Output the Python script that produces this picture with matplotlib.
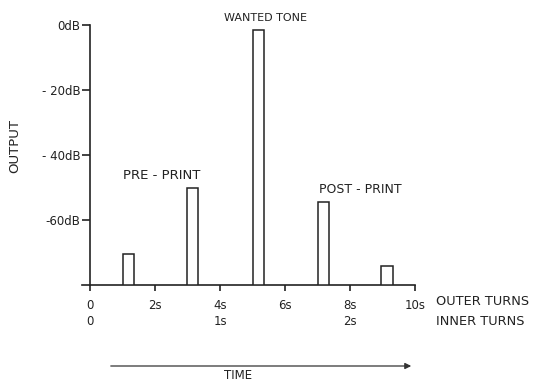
import matplotlib
matplotlib.use("Agg")
import matplotlib.pyplot as plt

# data
bar_times = [1.18, 3.16, 5.18, 7.18, 9.14]
bar_levels = [-70.5, -50.2, -1.5, -54.5, -74.3]
bar_width = 0.35
y_ticks = [0, -20, -40, -60]
y_tick_labels = ["0dB", "- 20dB", "- 40dB", "-60dB"]
outer_ticks = [0, 2, 4, 6, 8, 10]
outer_labels = ["0", "2s", "4s", "6s", "8s", "10s"]
inner_ticks = [0, 4, 8]
inner_labels = ["0", "1s", "2s"]
baseline = -80

plt.rcParams['font.family'] = ['DejaVu Sans']
fig = plt.figure(figsize=(5.42, 3.81), dpi=100)
ax = fig.add_axes([0.1513, 0.252, 0.6144, 0.6824])

ax.bar(bar_times, [l - baseline for l in bar_levels], bottom=baseline, width=bar_width,
       facecolor='white', edgecolor='#222222', linewidth=1.1, zorder=3)

ax.set_xlim(-0.25, 10)
ax.set_ylim(baseline, 0)

for s in ['top', 'right']:
    ax.spines[s].set_visible(False)
ax.spines['left'].set_position(('data', 0))
ax.spines['left'].set_linewidth(1.2)
ax.spines['bottom'].set_linewidth(1.2)
ax.spines['left'].set_color('#222222')
ax.spines['bottom'].set_color('#222222')

fs = 8.5
ax.set_yticks(y_ticks)
ax.set_yticklabels(y_tick_labels, fontsize=fs, color='#222222')
ax.tick_params(axis='y', direction='out', length=6, width=1.2, pad=1, color='#222222')

ax.set_xticks(outer_ticks)
ax.set_xticklabels(outer_labels, fontsize=fs, color='#222222')
ax.tick_params(axis='x', direction='out', length=4, width=1.2, pad=6, color='#222222')

xt = ax.get_xaxis_transform()
for t, lab in zip(inner_ticks, inner_labels):
    ax.text(t, -0.14, lab, transform=xt, ha='center', va='center', fontsize=fs, color='#222222')

ax.text(10.65, -0.065, "OUTER TURNS", transform=xt, ha='left', va='center', fontsize=9.3, color='#222222', clip_on=False)
ax.text(10.65, -0.14, "INNER TURNS", transform=xt, ha='left', va='center', fontsize=9.3, color='#222222', clip_on=False)

ax.text(5.41, 2.3, "WANTED TONE", ha='center', va='center', fontsize=8, color='#222222', clip_on=False)
ax.text(2.2, -46.2, "PRE - PRINT", ha='center', va='center', fontsize=9.5, color='#222222')
ax.text(8.32, -50.5, "POST - PRINT", ha='center', va='center', fontsize=9, color='#222222')

fig.text(15 / 542, 1 - 146 / 381, "OUTPUT", rotation=90, ha='center', va='center', fontsize=9.5, color='#222222')

fig.add_artist(matplotlib.patches.FancyArrowPatch((108 / 542, 1 - 366 / 381), (414 / 542, 1 - 366 / 381),
               transform=fig.transFigure, arrowstyle='-|>', mutation_scale=9, color='#333333', linewidth=0.9))
fig.text(238 / 542, 1 - 375.5 / 381, "TIME", ha='center', va='center', fontsize=8.5, color='#222222')

fig.savefig("out.png", dpi=100)
